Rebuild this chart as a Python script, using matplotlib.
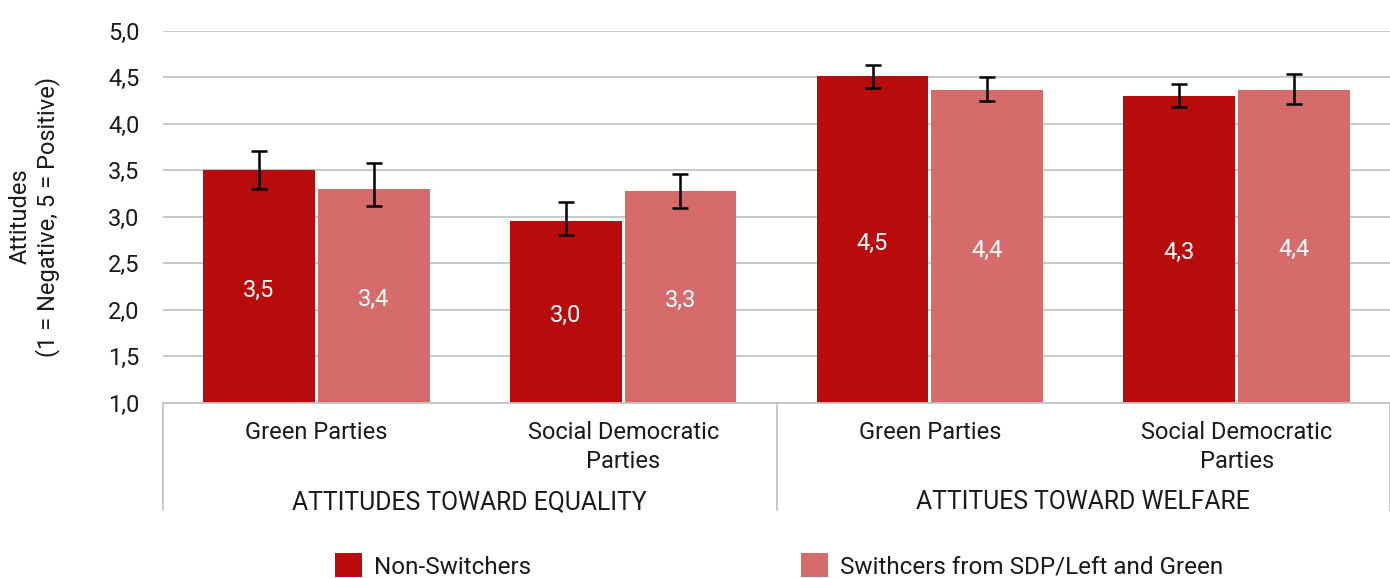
import matplotlib.pyplot as plt
import matplotlib.transforms as mtransforms
from matplotlib.patches import Patch

# data
categories = ["Green Parties", "Social Democratic\nParties", "Green Parties", "Social Democratic\nParties"]
groups = ["ATTITUDES TOWARD EQUALITY", "ATTITUES TOWARD WELFARE"]
series_names = ["Non-Switchers", "Swithcers from SDP/Left and Green"]

non_switchers = [3.50, 2.955, 4.51, 4.30]
switchers = [3.30, 3.275, 4.357, 4.365]
non_err_low = [0.20, 0.15, 0.13, 0.125]
non_err_high = [0.20, 0.20, 0.12, 0.12]
sw_err_low = [0.19, 0.18, 0.11, 0.16]
sw_err_high = [0.27, 0.18, 0.14, 0.17]
non_labels = ["3,5", "3,0", "4,5", "4,3"]
sw_labels = ["3,4", "3,3", "4,4", "4,4"]

y_ticks = [1.0, 1.5, 2.0, 2.5, 3.0, 3.5, 4.0, 4.5, 5.0]

DARK = "#B80B0B"
LIGHT = "#D66B6B"
TEXT = "#1a1a1a"
GRID = "#c4c4c4"
FS = 17

plt.rcParams["font.family"] = ["Roboto", "DejaVu Sans"]
plt.rcParams["font.size"] = FS

fig = plt.figure(figsize=(13.9, 5.78), dpi=100)
ax = fig.add_axes([163 / 1390, 1 - 402.5 / 578, 1 - 163 / 1390, 372 / 578])

x = list(range(len(categories)))
width = 0.365
off = 0.187

err_style = dict(ecolor="black", elinewidth=1.8, capsize=5.5, capthick=1.8, zorder=3)
bars1 = ax.bar([i - off for i in x], non_switchers, width=width, color=DARK, zorder=2,
               yerr=[non_err_low, non_err_high], error_kw=err_style)
bars2 = ax.bar([i + off for i in x], switchers, width=width, color=LIGHT, zorder=2,
               yerr=[sw_err_low, sw_err_high], error_kw=err_style)

# labels sit in the middle of the visible part of each bar (axis starts at 1)
for bars, labels in ((bars1, non_labels), (bars2, sw_labels)):
    for b, lab in zip(bars, labels):
        ax.text(b.get_x() + b.get_width() / 2, (1.0 + b.get_height()) / 2 - 0.04, lab,
                ha="center", va="center", color="white", fontsize=FS, zorder=4)

ax.set_ylim(1.0, 5.0)
ax.set_xlim(-0.5, 3.5)
ax.set_yticks(y_ticks)
ax.set_yticklabels([f"{v:.1f}".replace(".", ",") for v in y_ticks], color=TEXT, fontsize=FS)
ax.tick_params(axis="y", length=0, pad=17)
ax.tick_params(axis="x", length=0, labelbottom=False)
ax.yaxis.grid(True, color=GRID, linewidth=1.3, zorder=0)
ax.set_axisbelow(True)

for side in ("left", "right", "top"):
    ax.spines[side].set_visible(False)
ax.spines["bottom"].set_color(GRID)
ax.spines["bottom"].set_linewidth(1.3)

ax.set_ylabel("Attitudes\n(1 = Negative, 5 = Positive)", color=TEXT, fontsize=FS,
               linespacing=1.15)
ax.yaxis.set_label_coords(-0.084, 0.5)

trans = mtransforms.blended_transform_factory(ax.transData, ax.transAxes)
for i, cat in enumerate(categories):
    ax.text(i, -0.05, cat, transform=trans, ha="center", va="top", color=TEXT,
            fontsize=FS, linespacing=1.3, clip_on=False)
for g, name in enumerate(groups):
    ax.text(0.5 + 2 * g, -0.268, name, transform=trans, ha="center", va="center",
            color=TEXT, fontsize=17.8, clip_on=False)
for xv in (-0.5, 1.5, 3.5):
    ax.plot([xv, xv], [-0.29, 0], transform=trans, color=GRID, linewidth=1.3, clip_on=False)

handles = [Patch(facecolor=DARK), Patch(facecolor=LIGHT)]
fig.legend(handles, series_names, loc="center", bbox_to_anchor=(779 / 1390, 1 - 566 / 578),
           ncol=2, frameon=False, handlelength=1.12, handleheight=1.12, handletextpad=0.5,
           columnspacing=11.1, fontsize=17.5, labelcolor=TEXT)

fig.savefig("out.png", dpi=100)
